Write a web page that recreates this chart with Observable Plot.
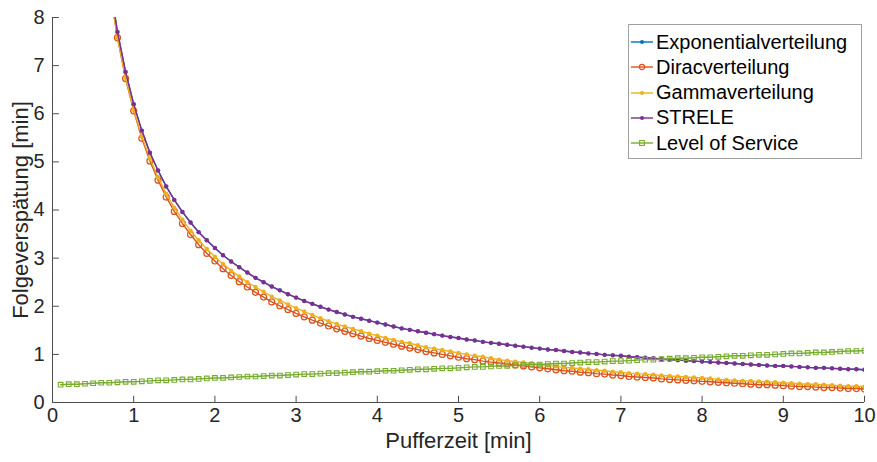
<!DOCTYPE html>
<html><head><meta charset="utf-8">
<script src="https://cdn.jsdelivr.net/npm/d3@7"></script>
<script src="https://cdn.jsdelivr.net/npm/@observablehq/plot@0.6"></script>
<style>
body{margin:0;background:#fff;font-family:"Liberation Sans",Arial,sans-serif;}
#wrap{position:relative;width:877px;height:462px;}
#wrap svg{display:block;}
#legend{position:absolute;left:628px;top:24px;width:234px;height:135px;border:1px solid #a0a0a0;background:#fff;box-sizing:border-box;}
.row{position:absolute;left:0;height:26px;display:flex;align-items:center;font-size:20px;color:#000;white-space:nowrap;}
.row svg{margin-right:1px;}
</style></head><body><div id="wrap"></div>
<script>
// Pufferzeit grid (min)
const pufferzeit = d3.range(1, 101).map(i => i / 10);   // 0.1 .. 10
const pufferzeitAb07 = pufferzeit.slice(6);              // 0.7 .. 10

const seriesNames = ["Exponentialverteilung", "Diracverteilung", "Gammaverteilung", "STRELE", "Level of Service"];
const seriesColors = ["#0072BD", "#D95319", "#EDB120", "#7E2F8E", "#77AC30"];

const exponential = [8.76,7.70,6.87,6.20,
5.65,5.19,4.82,4.49,4.21,3.96,3.74,3.54,3.37,3.21,
3.06,2.93,2.81,2.70,2.59,2.50,2.41,2.33,2.25,2.18,
2.11,2.05,1.99,1.93,1.88,1.83,1.78,1.74,1.70,1.66,
1.62,1.58,1.54,1.51,1.48,1.45,1.42,1.39,1.36,1.34,
1.31,1.29,1.26,1.24,1.22,1.20,1.18,1.16,1.14,1.12,
1.10,1.09,1.07,1.05,1.04,1.02,1.01,0.99,0.98,0.97,
0.95,0.94,0.93,0.92,0.90,0.89,0.88,0.87,0.86,0.85,
0.84,0.83,0.82,0.81,0.80,0.79,0.78,0.77,0.76,0.76,
0.75,0.74,0.73,0.72,0.72,0.71,0.70,0.69,0.69,0.68];

const dirac = [8.66,7.58,6.73,6.06,
5.49,5.02,4.62,4.27,3.97,3.72,3.49,3.28,3.10,2.94,
2.78,2.64,2.51,2.40,2.29,2.19,2.09,2.01,1.93,1.85,
1.78,1.71,1.65,1.59,1.53,1.48,1.43,1.38,1.33,1.29,
1.25,1.21,1.17,1.13,1.10,1.06,1.03,1.00,0.97,0.94,
0.91,0.89,0.86,0.84,0.82,0.80,0.78,0.76,0.74,0.72,
0.70,0.68,0.66,0.65,0.63,0.62,0.60,0.59,0.57,0.56,
0.54,0.53,0.52,0.51,0.49,0.48,0.47,0.46,0.45,0.44,
0.43,0.42,0.41,0.40,0.39,0.38,0.37,0.37,0.36,0.35,
0.34,0.33,0.33,0.32,0.31,0.31,0.30,0.29,0.29,0.28];

const gamma = [8.66,7.58,6.75,6.08,
5.53,5.07,4.68,4.34,4.05,3.80,3.57,3.37,3.19,3.03,
2.88,2.74,2.62,2.50,2.40,2.30,2.20,2.12,2.04,1.96,
1.89,1.82,1.75,1.69,1.63,1.58,1.53,1.48,1.43,1.39,
1.34,1.30,1.26,1.23,1.19,1.15,1.12,1.09,1.06,1.03,
1.00,0.97,0.95,0.92,0.89,0.87,0.85,0.83,0.81,0.79,
0.77,0.75,0.73,0.72,0.70,0.69,0.67,0.66,0.64,0.63,
0.61,0.60,0.59,0.58,0.56,0.55,0.54,0.53,0.52,0.51,
0.50,0.48,0.47,0.46,0.45,0.45,0.44,0.43,0.42,0.41,
0.40,0.39,0.38,0.38,0.37,0.36,0.35,0.34,0.34,0.33];

const strele = [8.76,7.70,6.87,6.20,
5.65,5.19,4.82,4.49,4.21,3.96,3.74,3.54,3.37,3.21,
3.06,2.93,2.81,2.70,2.59,2.50,2.41,2.33,2.25,2.18,
2.11,2.05,1.99,1.93,1.88,1.83,1.78,1.74,1.70,1.66,
1.62,1.58,1.54,1.51,1.48,1.45,1.42,1.39,1.36,1.34,
1.31,1.29,1.26,1.24,1.22,1.20,1.18,1.16,1.14,1.12,
1.10,1.09,1.07,1.05,1.04,1.02,1.01,0.99,0.98,0.97,
0.95,0.94,0.93,0.92,0.90,0.89,0.88,0.87,0.86,0.85,
0.84,0.83,0.82,0.81,0.80,0.79,0.78,0.77,0.76,0.76,
0.75,0.74,0.73,0.72,0.72,0.71,0.70,0.69,0.69,0.68];

const levelOfService = [0.37,0.38,0.38,0.39,0.40,0.41,0.41,0.42,0.43,0.43,
0.44,0.45,0.46,0.46,0.47,0.48,0.48,0.49,0.50,0.51,
0.51,0.52,0.53,0.54,0.54,0.55,0.56,0.56,0.57,0.58,
0.59,0.59,0.60,0.61,0.61,0.62,0.63,0.64,0.64,0.65,
0.66,0.66,0.67,0.68,0.69,0.69,0.70,0.71,0.71,0.72,
0.73,0.74,0.74,0.75,0.76,0.76,0.77,0.78,0.79,0.79,
0.80,0.81,0.81,0.82,0.83,0.84,0.84,0.85,0.86,0.86,
0.87,0.88,0.89,0.89,0.90,0.91,0.92,0.92,0.93,0.94,
0.94,0.95,0.96,0.97,0.97,0.98,0.99,0.99,1.00,1.01,
1.02,1.02,1.03,1.04,1.04,1.05,1.06,1.07,1.07,1.08];

const xTicks = [0,1,2,3,4,5,6,7,8,9,10];
const yTicks = [0,1,2,3,4,5,6,7,8];
const xTitle = "Pufferzeit [min]";
const yTitle = "Folgeverspätung [min]";

const rows = (xs, ys) => xs.map((x, i) => ({x, y: ys[i]}));
const dExp = rows(pufferzeitAb07, exponential);
const dDir = rows(pufferzeitAb07, dirac);
const dGam = rows(pufferzeitAb07, gamma);
const dStr = rows(pufferzeitAb07, strele);
const dLos = rows(pufferzeit, levelOfService);

const axisColor = "#4d4d4d";
const lw = 1.4;

const chart = Plot.plot({
  width: 877, height: 462,
  marginLeft: 52, marginRight: 13, marginTop: 17, marginBottom: 60,
  x: {domain: [0, 10]},
  y: {domain: [0, 8]},
  style: {fontFamily: "'Liberation Sans', Arial, sans-serif", fontSize: "20px", color: "#262626", background: "#fff"},
  marks: [
    Plot.line(dExp, {x: "x", y: "y", stroke: seriesColors[0], strokeWidth: lw, clip: true}),
    Plot.dot(dExp, {x: "x", y: "y", r: 2, fill: seriesColors[0], clip: true}),
    Plot.line(dDir, {x: "x", y: "y", stroke: seriesColors[1], strokeWidth: lw, clip: true}),
    Plot.dot(dDir, {x: "x", y: "y", r: 3, stroke: seriesColors[1], fill: "none", strokeWidth: 1.2, clip: true}),
    Plot.line(dGam, {x: "x", y: "y", stroke: seriesColors[2], strokeWidth: lw, clip: true}),
    Plot.dot(dGam, {x: "x", y: "y", r: 2.2, fill: seriesColors[2], clip: true}),
    Plot.line(dStr, {x: "x", y: "y", stroke: seriesColors[3], strokeWidth: lw, clip: true}),
    Plot.dot(dStr, {x: "x", y: "y", r: 2.2, fill: seriesColors[3], clip: true}),
    Plot.line(dLos, {x: "x", y: "y", stroke: seriesColors[4], strokeWidth: lw, clip: true}),
    Plot.dot(dLos, {x: "x", y: "y", symbol: "square", r: 2.6, stroke: seriesColors[4], fill: "none", strokeWidth: 1.1, clip: true}),
    Plot.ruleY([0], {stroke: axisColor, strokeWidth: 1}),
    Plot.ruleX([0], {stroke: axisColor, strokeWidth: 1}),
    Plot.ruleY(yTicks.slice(1), {y: d => d, x1: 0, x2: 0.085, stroke: axisColor}),
    Plot.ruleX(xTicks.slice(1), {x: d => d, y1: 0, y2: 0.13, stroke: axisColor}),
    Plot.axisY(yTicks, {tickSize: 0, tickPadding: 8, fontSize: 20, label: null}),
    Plot.axisX(xTicks, {tickSize: 0, tickPadding: 5, fontSize: 20, label: null}),
    Plot.text([xTitle], {frameAnchor: "bottom", dy: 45, fontSize: 22, fill: "#262626"}),
    Plot.text([yTitle], {frameAnchor: "left", dx: -32, rotate: -90, textAnchor: "middle", fontSize: 22, fill: "#262626"})
  ]
});
const wrap = document.getElementById("wrap");
wrap.appendChild(chart);

const legend = document.createElement("div");
legend.id = "legend";
const markerKinds = ["dot", "circle", "dot", "dot", "square"];
seriesNames.forEach((name, i) => {
  const row = document.createElement("div");
  row.className = "row";
  row.style.top = (4 + i * 25.3) + "px";
  const c = seriesColors[i];
  let m = "";
  if (markerKinds[i] === "dot") m = `<circle cx="13" cy="13" r="2" fill="${c}"/>`;
  if (markerKinds[i] === "circle") m = `<circle cx="13" cy="13" r="2.6" fill="none" stroke="${c}" stroke-width="1.1"/>`;
  if (markerKinds[i] === "square") m = `<rect x="10.6" y="10.6" width="4.8" height="4.8" fill="none" stroke="${c}" stroke-width="1.1"/>`;
  row.innerHTML = `<svg width="26" height="26"><line x1="2" x2="24" y1="13" y2="13" stroke="${c}" stroke-width="1.4"/>${m}</svg><span>${name}</span>`;
  legend.appendChild(row);
});
wrap.appendChild(legend);
</script></body></html>
